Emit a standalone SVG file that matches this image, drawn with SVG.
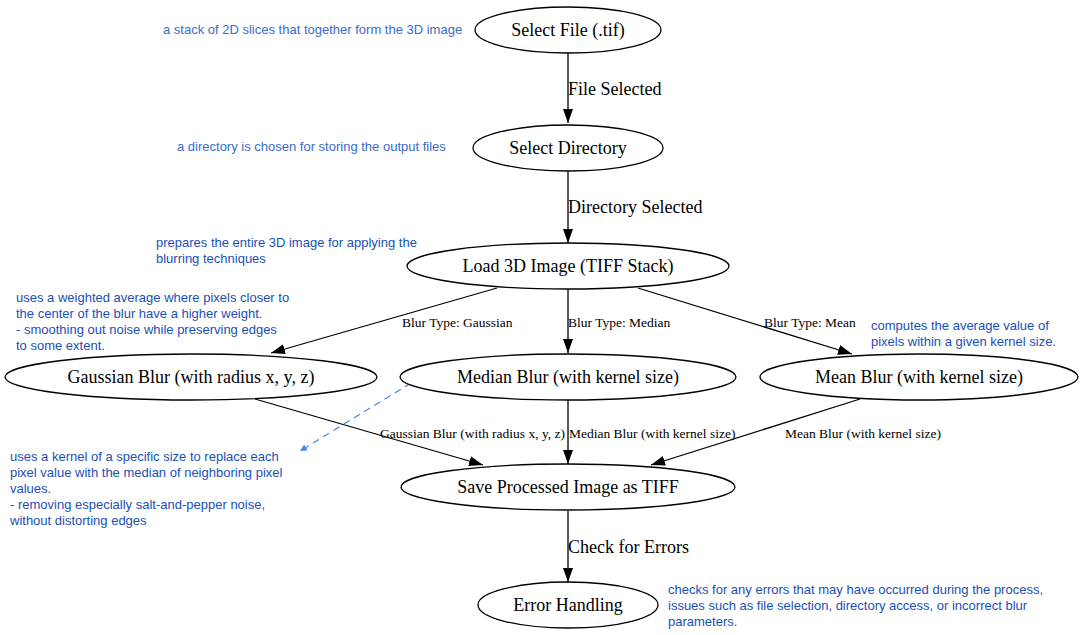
<svg xmlns="http://www.w3.org/2000/svg" width="1083" height="635" viewBox="0 0 1083 635">
<defs>
<marker id="ah" viewBox="0 0 14 10" refX="14" refY="5" markerWidth="14" markerHeight="10" markerUnits="userSpaceOnUse" orient="auto"><path d="M0,0 L14,5 L0,10 z" fill="#000"/></marker>
<marker id="ahb" viewBox="0 0 10 10" refX="10" refY="5" markerWidth="7" markerHeight="7" markerUnits="userSpaceOnUse" orient="auto"><path d="M0,0 L10,5 L0,10 z" fill="#4a86e8"/></marker>
</defs>
<style>
.n ellipse{fill:#fff;stroke:#000;stroke-width:1.3}
.n text{font-family:"Liberation Serif",serif;font-size:18px;fill:#000;text-anchor:middle;dominant-baseline:central}
.e line{stroke:#000;stroke-width:1.3;marker-end:url(#ah)}
.big{font-family:"Liberation Serif",serif;font-size:18px;fill:#000;dominant-baseline:central}
.sm{font-family:"Liberation Serif",serif;font-size:13.5px;fill:#000;dominant-baseline:central}
.note{font-family:"Liberation Sans",Arial,sans-serif;font-size:13px;fill:#1a4fb5}
.note2{fill:#3a6cc8}
</style>
<rect width="1083" height="635" fill="#fff"/>
<g id="connectors" class="e">
<line x1="568" y1="53" x2="568" y2="123"/>
<line x1="568" y1="171" x2="568" y2="243"/>
<line x1="497" y1="288" x2="271" y2="353"/>
<line x1="568" y1="289" x2="568" y2="353"/>
<line x1="638" y1="288" x2="852" y2="354"/>
<line x1="255" y1="399" x2="483" y2="465"/>
<line x1="568" y1="400" x2="568" y2="464"/>
<line x1="860" y1="399" x2="651" y2="465"/>
<line x1="568" y1="511" x2="568" y2="582"/>
<line x1="411" y1="383" x2="300" y2="451" style="stroke:#4a86e8;stroke-width:1.2;stroke-dasharray:7,5;marker-end:url(#ahb)"/>
<text class="big" x="568" y="89">File Selected</text>
<text class="big" x="568" y="207">Directory Selected</text>
<text class="sm" x="402" y="322">Blur Type: Gaussian</text>
<text class="sm" x="568" y="322">Blur Type: Median</text>
<text class="sm" x="764" y="322">Blur Type: Mean</text>
<text class="sm" x="380" y="433">Gaussian Blur (with radius x, y, z)</text>
<text class="sm" x="569" y="433">Median Blur (with kernel size)</text>
<text class="sm" x="785" y="433">Mean Blur (with kernel size)</text>
<text class="big" x="568" y="547">Check for Errors</text>
</g>
<g id="selectFile" class="n"><ellipse cx="568" cy="30" rx="93" ry="23"/><text x="568" y="30">Select File (.tif)</text></g>
<g id="selectDirectory" class="n"><ellipse cx="568" cy="148" rx="95" ry="23"/><text x="568" y="148">Select Directory</text></g>
<g id="load3D" class="n"><ellipse cx="568" cy="266" rx="161" ry="23"/><text x="568" y="266">Load 3D Image (TIFF Stack)</text></g>
<g id="gaussian" class="n"><ellipse cx="191" cy="377" rx="186" ry="23"/><text x="191" y="377">Gaussian Blur (with radius x, y, z)</text></g>
<g id="median" class="n"><ellipse cx="568" cy="377" rx="168" ry="23"/><text x="568" y="377">Median Blur (with kernel size)</text></g>
<g id="mean" class="n"><ellipse cx="919" cy="377" rx="159" ry="23"/><text x="919" y="377">Mean Blur (with kernel size)</text></g>
<g id="save" class="n"><ellipse cx="568" cy="487" rx="167" ry="23"/><text x="568" y="487">Save Processed Image as TIFF</text></g>
<g id="errorHandling" class="n"><ellipse cx="568" cy="605" rx="90" ry="23"/><text x="568" y="605">Error Handling</text></g>
<g id="notes">
<text class="note note2" x="163" y="34">a stack of 2D slices that together form the 3D image</text>
<text class="note note2" x="177" y="151">a directory is chosen for storing the output files</text>
<text class="note" x="156" y="247">prepares the entire 3D image for applying the<tspan x="156" dy="16">blurring techniques</tspan></text>
<text class="note" x="16" y="302">uses a weighted average where pixels closer to<tspan x="16" dy="16">the center of the blur have a higher weight.</tspan><tspan x="16" dy="16">- smoothing out noise while preserving edges</tspan><tspan x="16" dy="16">to some extent.</tspan></text>
<text class="note" x="871" y="330">computes the average value of<tspan x="871" dy="16">pixels within a given kernel size.</tspan></text>
<text class="note" x="10" y="461">uses a kernel of a specific size to replace each<tspan x="10" dy="16">pixel value with the median of neighboring pixel</tspan><tspan x="10" dy="16">values.</tspan><tspan x="10" dy="16">- removing especially salt-and-pepper noise,</tspan><tspan x="10" dy="16">without distorting edges</tspan></text>
<text class="note" x="668" y="594">checks for any errors that may have occurred during the process,<tspan x="668" dy="16">issues such as file selection, directory access, or incorrect blur</tspan><tspan x="668" dy="16">parameters.</tspan></text>
</g>
</svg>
